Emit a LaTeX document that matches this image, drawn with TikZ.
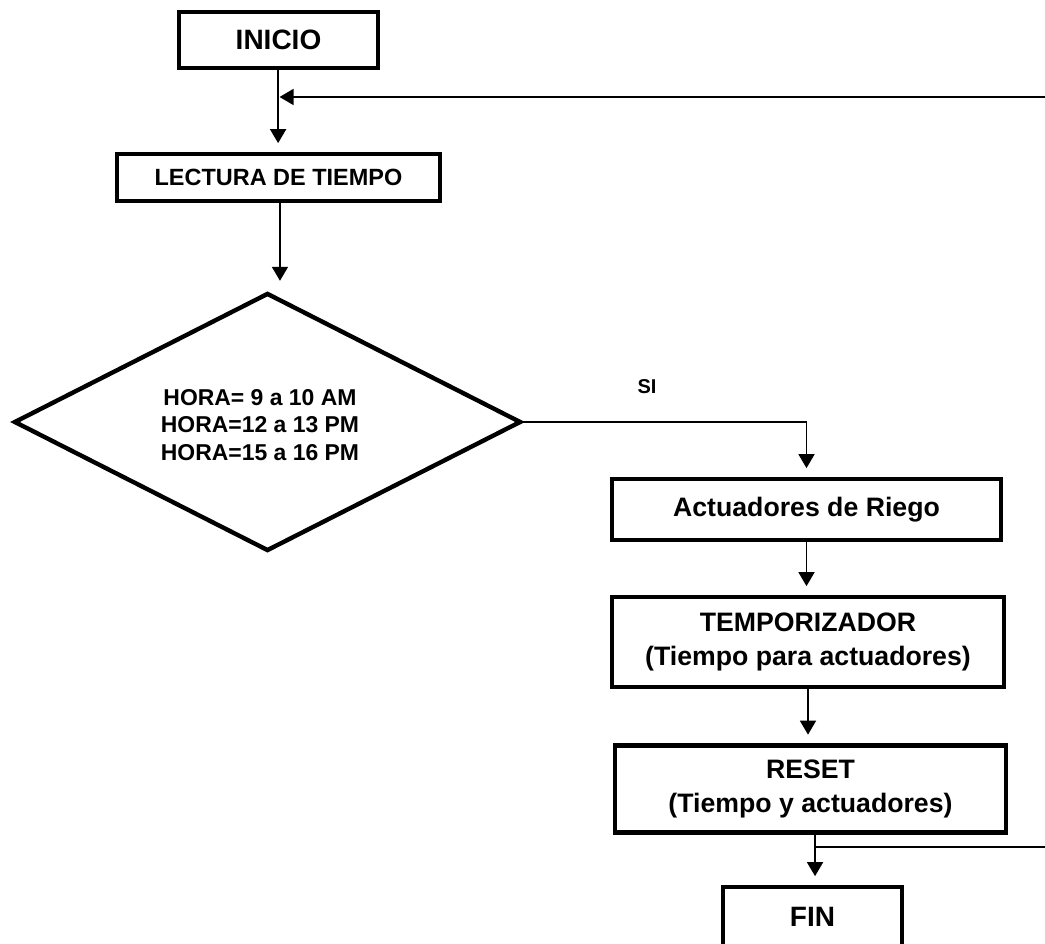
\documentclass[tikz,border=0pt]{standalone}
\usepackage{fontspec}
\setmainfont{Liberation Sans}
\usetikzlibrary{arrows.meta,shapes.geometric}

\tikzset{
  box/.style={draw, line width=3.3pt, inner sep=0pt, align=center},
  decision/.style={draw, diamond, line width=3.3pt, inner sep=0pt},
  tip/.style={-{Triangle[length=10.5pt,width=12pt]}},
  flow/.style={line width=1.3pt, tip, shorten >=6.5pt},
  wire/.style={line width=1.3pt},
  bigtxt/.style={font=\fontsize{21}{25}\selectfont\bfseries},
  midtxt/.style={font=\fontsize{20}{25.5}\selectfont\bfseries},
  lecttxt/.style={font=\fontsize{17.6}{21}\selectfont\bfseries},
  hortxt/.style={font=\fontsize{17.2}{20.5}\selectfont\bfseries, align=center},
  smalltxt/.style={font=\fontsize{15}{18}\selectfont\bfseries}
}

\begin{document}
\begin{tikzpicture}[x=0.75pt, y=-0.75pt]
  \useasboundingbox (0,0) rectangle (1045,944);
  \fill[white] (0,0) rectangle (1045,944);

  % process blocks
  \node[box, bigtxt, minimum width=149.25pt, minimum height=42pt] (inicio) at (278.5,40) {INICIO};
  \node[box, lecttxt, minimum width=242.25pt, minimum height=35.25pt] (lect) at (278.5,177.5) {LECTURA DE TIEMPO};
  \node[decision, minimum width=380.25pt, minimum height=193.5pt] (hora) at (267.5,422) {};
  \node[hortxt] (horatxt) at (260,425) {HORA= 9 a 10 AM\\HORA=12 a 13 PM\\HORA=15 a 16 PM};
  \node[box, midtxt, minimum width=291.75pt, minimum height=45.75pt] (act) at (806.5,509.5) {Actuadores de Riego};
  \node[box, midtxt, minimum width=294pt, minimum height=67.5pt] (temp) at (808,642)
    {TEMPORIZADOR\\(Tiempo para actuadores)};
  \node[box, midtxt, minimum width=293.25pt, minimum height=65.25pt] (reset) at (810.5,789)
    {RESET\\(Tiempo y actuadores)};
  \node[box, bigtxt, minimum width=134.25pt, minimum height=45pt] (fin) at (812.5,917) {FIN};

  \node[smalltxt] (si) at (647,387) {SI};

  % return paths entering and leaving at the right margin
  \coordinate (loopin) at (1045,97);
  \coordinate (loopout) at (1045,847);
  \coordinate (join) at ([xshift=-0.2pt]inicio.south |- loopin);
  \coordinate (split) at ([xshift=3.4pt]reset.south |- loopout);

  % connectors
  \draw[flow] ([xshift=-0.3pt]inicio.south) -- ([xshift=-0.3pt]inicio.south |- lect.north);
  \draw[wire, tip] (loopin) -- ([xshift=1pt]join);
  \draw[flow, shorten >=7.5pt] ([xshift=1.1pt]lect.south) -- ([xshift=1.1pt]lect.south |- hora.north);
  \draw[flow] (hora.east) -| (act.north);
  \draw[flow] (act.south) -- (act.south |- temp.north);
  \draw[flow] (temp.south) -- (temp.south |- reset.north);
  \draw[flow] ([xshift=3.4pt]reset.south) -- ([xshift=3.4pt]reset.south |- fin.north);
  \draw[wire] (split) -- (loopout);
\end{tikzpicture}
\end{document}
